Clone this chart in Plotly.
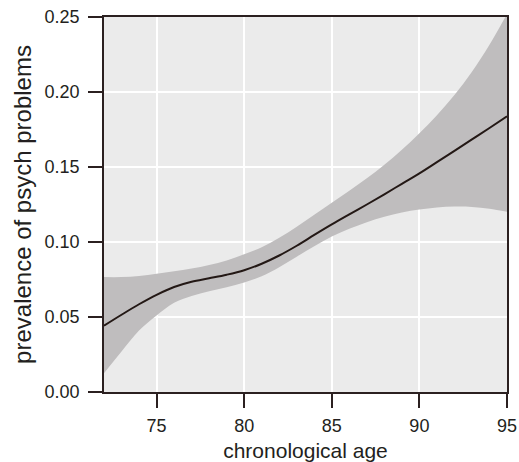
import plotly.graph_objects as go

age = [72, 73, 74, 75, 76, 77, 78, 79, 80, 81, 82, 83, 84, 85, 86, 87, 88, 89, 90, 91, 92, 93, 94, 95]
fit = [0.0442, 0.0515, 0.0585, 0.0648, 0.0700, 0.0735, 0.0758, 0.0782, 0.0812, 0.0855, 0.0910, 0.0975,
       0.1047, 0.1117, 0.1184, 0.1250, 0.1318, 0.1388, 0.1457, 0.1532, 0.1608, 0.1684, 0.1760, 0.1838]
upper = [0.0766, 0.0766, 0.0774, 0.0788, 0.0805, 0.0823, 0.0847, 0.0877, 0.0918, 0.0965, 0.1028, 0.1102,
         0.1182, 0.1262, 0.1342, 0.1425, 0.1515, 0.1615, 0.1725, 0.1845, 0.1980, 0.2135, 0.2315, 0.2520]
lower = [0.0125, 0.0270, 0.0410, 0.0510, 0.0595, 0.0640, 0.0672, 0.0698, 0.0730, 0.0772, 0.0832, 0.0902,
         0.0972, 0.1036, 0.1088, 0.1132, 0.1168, 0.1196, 0.1216, 0.1230, 0.1236, 0.1234, 0.1222, 0.1202]
x_ticks = [75, 80, 85, 90, 95]
y_ticks = [0.00, 0.05, 0.10, 0.15, 0.20, 0.25]

axis_color = "#2b2020"
font = "Liberation Sans, Arial, sans-serif"

fig = go.Figure()
fig.add_trace(go.Scatter(x=age, y=upper, mode="lines", line=dict(width=0, shape="spline"),
                         hoverinfo="skip", showlegend=False))
fig.add_trace(go.Scatter(x=age, y=lower, mode="lines", line=dict(width=0, shape="spline"),
                         fill="tonexty", fillcolor="#bfbdbe", hoverinfo="skip", showlegend=False))
fig.add_trace(go.Scatter(x=age, y=fit, mode="lines", line=dict(color="#231815", width=2, shape="spline"),
                         showlegend=False))

fig.update_layout(
    width=519, height=462,
    margin=dict(l=104, r=12, t=17, b=70, autoexpand=False),
    paper_bgcolor="white", plot_bgcolor="#ebebeb",
    font=dict(family=font, color="#231f20", size=18),
)
fig.update_xaxes(
    range=[72, 95], tickvals=x_ticks, ticktext=[str(v) for v in x_ticks],
    showgrid=True, gridcolor="white", gridwidth=1.5, zeroline=False,
    showline=True, linecolor=axis_color, linewidth=1.5, mirror=True,
    ticks="outside", ticklen=14, tickwidth=2, tickcolor=axis_color,
    tickfont=dict(size=18), ticklabelstandoff=3, automargin=False,
    title=dict(text="chronological age", font=dict(size=21), standoff=8),
)
fig.update_yaxes(
    range=[0, 0.25], tickvals=y_ticks, ticktext=[f"{v:.2f}" for v in y_ticks],
    showgrid=True, gridcolor="white", gridwidth=1.5, zeroline=False,
    showline=True, linecolor=axis_color, linewidth=1.5, mirror=True,
    ticks="outside", ticklen=14, tickwidth=2, tickcolor=axis_color,
    tickfont=dict(size=18), ticklabelstandoff=5, automargin=False,
    title=dict(text="prevalence of psych problems", font=dict(size=24), standoff=6),
)
fig.write_html("out.html")
